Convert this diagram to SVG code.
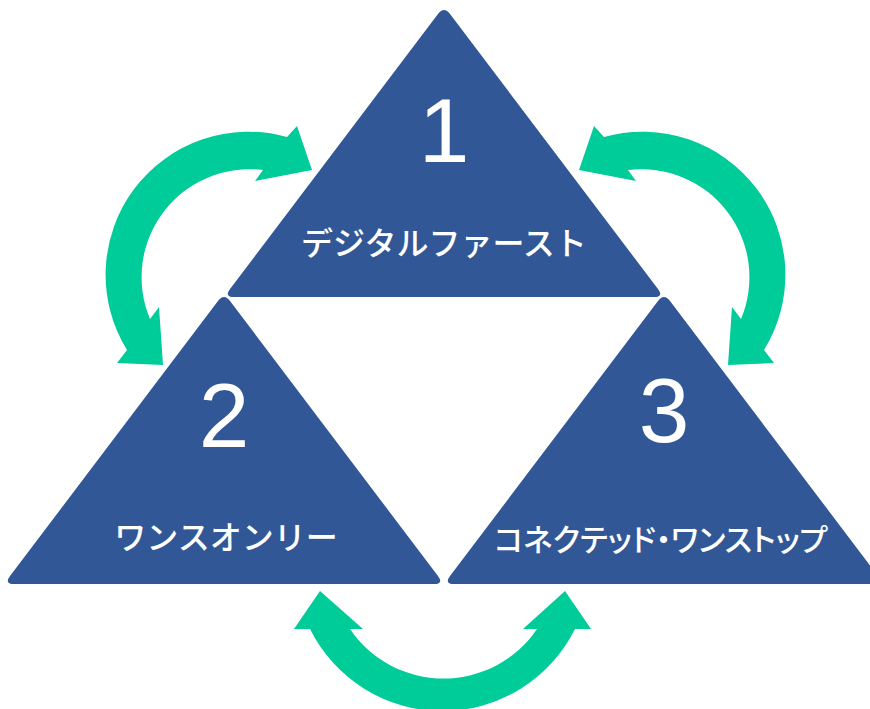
<svg xmlns="http://www.w3.org/2000/svg" xmlns:xlink="http://www.w3.org/1999/xlink" width="870" height="709" viewBox="0 0 870 709">
<style>
.tri{fill:#315797}
.arrow{fill:#00CC99}
.num{font-family:"Liberation Sans",Arial,sans-serif;font-size:91px;fill:#ffffff;text-anchor:middle}
.lbl{font-family:"Noto Sans CJK JP","Noto Sans",sans-serif;font-weight:500;fill:#ffffff;text-anchor:middle}
.prop{font-feature-settings:"palt" 1}
</style>
<defs>
<path id="tri" d="M -6.03,7.98 Q 0,0 6.03,7.98 L 213.97,283.02 Q 220,291 210,291 L -210,291 Q -220,291 -213.97,283.02 Z"/>
<path id="sideArrow" d="M 127,350 A 143 143 0 0 1 287,137 L 297,126 L 312,170 L 255,181 L 263,170 A 108 108 0 0 0 150,319 L 159,307 L 163,365 L 117,363 Z"/>
</defs>
<rect width="870" height="709" fill="#ffffff"/>
<g id="connectors">
<use xlink:href="#sideArrow" href="#sideArrow" class="arrow"/>
<use xlink:href="#sideArrow" href="#sideArrow" class="arrow" transform="translate(891,0) scale(-1,1)"/>
<path class="arrow" d="M 310,629 A 148 148 0 0 0 575,629 L 591,629 L 565,591 L 523,629 L 537,629 A 113 113 0 0 1 350,629 L 363,629 L 320,591 L 294,629 Z"/>
</g>
<g id="node1">
<use xlink:href="#tri" href="#tri" class="tri" transform="translate(444,6)"/>
<text class="num" x="444" y="162">1</text>
<text class="lbl" x="444" y="255" font-size="32">デジタルファースト</text>
</g>
<g id="node2">
<use xlink:href="#tri" href="#tri" class="tri" transform="translate(224,293)"/>
<text class="num" x="224" y="447">2</text>
<text class="lbl" x="226" y="549" font-size="32">ワンスオンリー</text>
</g>
<g id="node3">
<use xlink:href="#tri" href="#tri" class="tri" transform="translate(664,293)"/>
<text class="num" x="664" y="442">3</text>
<text class="lbl prop" x="661" y="551" font-size="30.5">コネクテッド・ワンストップ</text>
</g>
</svg>
